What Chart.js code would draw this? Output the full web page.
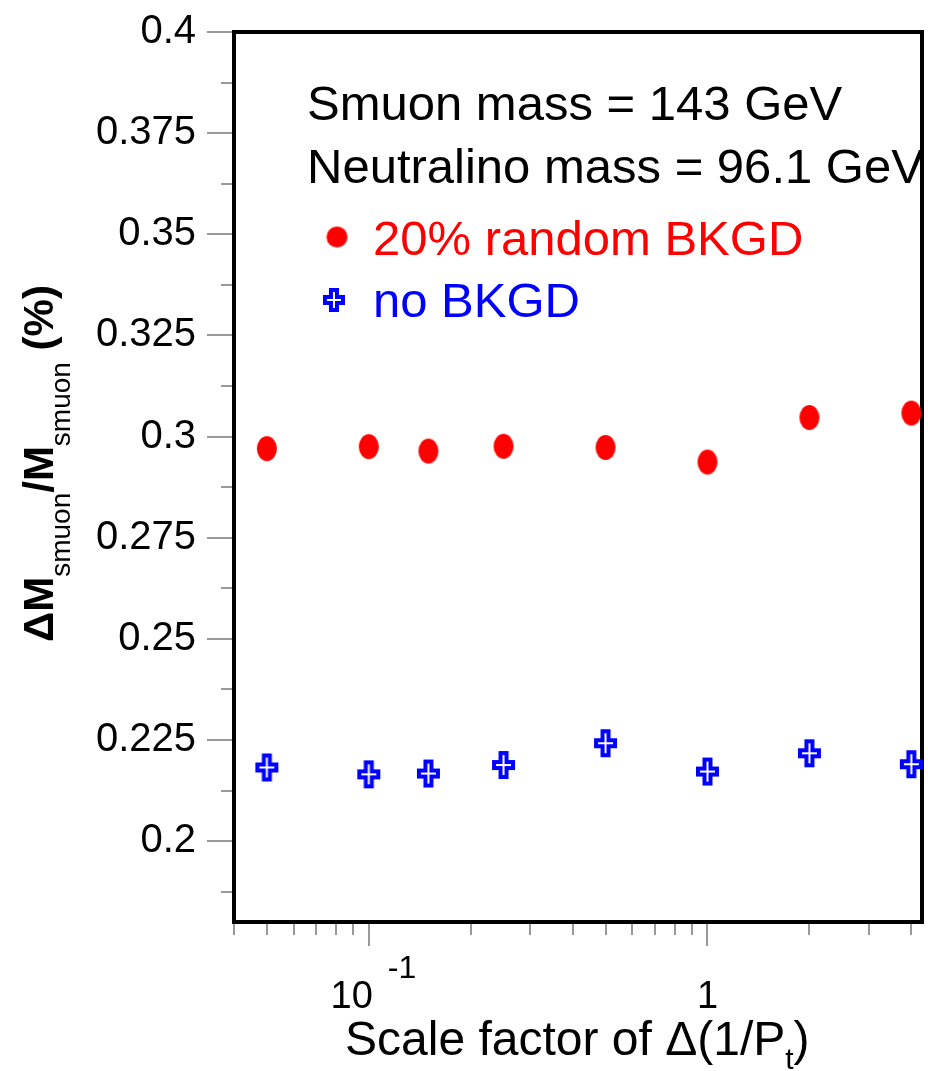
<!DOCTYPE html>
<html>
<head>
<meta charset="utf-8">
<script src="https://cdn.jsdelivr.net/npm/chart.js@4"></script>
<style>
  html, body { margin: 0; padding: 0; background: #fff; }
</style>
</head>
<body>
<canvas id="smuon-chart" width="928" height="1071"></canvas>
<script>
// scale factor of delta(1/Pt) and the mass resolution for both samples
const scaleFactors = [0.05, 0.1, 0.15, 0.25, 0.5, 1, 2, 4];
const randomBkgd = [0.2970, 0.2975, 0.2964, 0.2976, 0.2973, 0.2937, 0.3047, 0.3058];
const noBkgd = [0.2182, 0.2165, 0.2167, 0.2188, 0.2242, 0.2172, 0.2217, 0.2190];
const seriesNames = ["20% random BKGD", "no BKGD"];

const yMajorTicks = [0.2, 0.225, 0.25, 0.275, 0.3, 0.325, 0.35, 0.375, 0.4];
const yTickLabels = ["0.2", "0.225", "0.25", "0.275", "0.3", "0.325", "0.35", "0.375", "0.4"];
const yMinorTicks = [0.1875, 0.2125, 0.2375, 0.2625, 0.2875, 0.3125, 0.3375, 0.3625, 0.3875];
const xMajorTicks = [0.1, 1];
const xTickLabels = [["10", "-1"], ["1"]];
const xMinorTicks = [0.04, 0.05, 0.06, 0.07, 0.08, 0.09, 0.2, 0.3, 0.4, 0.5, 0.6, 0.7, 0.8, 0.9, 2, 3, 4];
const infoLines = ["Smuon mass = 143 GeV", "Neutralino mass = 96.1 GeV"];

const RED = "#ff0000";
const BLUE = "#0000ff";
const FONT = "'Liberation Sans', Arial, sans-serif";

function makeDot(w, h, color) {
  const c = document.createElement("canvas");
  c.width = w + 2;
  c.height = h + 2;
  const g = c.getContext("2d");
  g.fillStyle = color;
  g.beginPath();
  g.ellipse(c.width / 2, c.height / 2, w / 2, h / 2, 0, 0, Math.PI * 2);
  g.fill();
  return c;
}

function makePlus(w, h, arm, color) {
  const c = document.createElement("canvas");
  c.width = w + 2;
  c.height = h + 2;
  const g = c.getContext("2d");
  g.translate(c.width / 2, c.height / 2);
  const hw = w / 2, hh = h / 2, a = arm / 2;
  g.fillStyle = color;
  g.beginPath();
  g.moveTo(-a, -hh); g.lineTo(a, -hh); g.lineTo(a, -a); g.lineTo(hw, -a);
  g.lineTo(hw, a); g.lineTo(a, a); g.lineTo(a, hh); g.lineTo(-a, hh);
  g.lineTo(-a, a); g.lineTo(-hw, a); g.lineTo(-hw, -a); g.lineTo(-a, -a);
  g.closePath();
  g.fill();
  g.strokeStyle = "#ffffff";
  g.lineWidth = 2;
  g.beginPath();
  g.moveTo(0, -hh + 4); g.lineTo(0, hh - 4);
  g.moveTo(-hw + 4, 0); g.lineTo(hw - 4, 0);
  g.stroke();
  return c;
}

const redDot = makeDot(20, 25, RED);
const bluePlus = makePlus(23, 28, 10, BLUE);
const redDotLegend = makeDot(21, 21, RED);
const bluePlusLegend = makePlus(22, 24, 10, BLUE);

const decorations = {
  id: "decorations",
  beforeDatasetsDraw(chart) {
    const { ctx, chartArea: area, scales: { x, y } } = chart;
    ctx.save();
    ctx.strokeStyle = "#999999";
    ctx.lineWidth = 2;
    ctx.beginPath();
    y.ticks.forEach((t) => {
      const py = Math.round(y.getPixelForValue(t.value));
      const len = t.major ? 27 : 13;
      ctx.moveTo(area.left - len, py);
      ctx.lineTo(area.left, py);
    });
    x.ticks.forEach((t) => {
      const px = Math.round(x.getPixelForValue(t.value));
      const len = t.major ? 24 : 13;
      ctx.moveTo(px, area.bottom);
      ctx.lineTo(px, area.bottom + len);
    });
    ctx.stroke();

    ctx.strokeStyle = "#000000";
    ctx.lineWidth = 4;
    ctx.strokeRect(area.left, area.top, area.right - area.left, area.bottom - area.top);
    ctx.restore();
  },
  afterDraw(chart) {
    const { ctx, scales: { x } } = chart;
    ctx.save();
    ctx.fillStyle = "#000000";
    ctx.textBaseline = "alphabetic";

    // x tick labels
    const p01 = x.getPixelForValue(xMajorTicks[0]);
    ctx.font = "38px " + FONT;
    ctx.textAlign = "right";
    ctx.fillText(xTickLabels[0][0], p01 + 4, 1008);
    ctx.font = "32px " + FONT;
    ctx.textAlign = "left";
    ctx.fillText(xTickLabels[0][1], p01 + 19, 978);
    ctx.font = "38px " + FONT;
    ctx.textAlign = "center";
    ctx.fillText(xTickLabels[1][0], x.getPixelForValue(xMajorTicks[1]), 1008);

    // x title
    ctx.textAlign = "left";
    let cx = 345;
    ctx.font = "48px " + FONT;
    const xt = "Scale factor of \u0394(1/P";
    ctx.fillText(xt, cx, 1055);
    cx += ctx.measureText(xt).width;
    ctx.font = "30px " + FONT;
    ctx.fillText("t", cx, 1069);
    cx += ctx.measureText("t").width;
    ctx.font = "48px " + FONT;
    ctx.fillText(")", cx, 1055);

    // y title, rotated
    ctx.save();
    ctx.translate(53, 642);
    ctx.rotate(-Math.PI / 2);
    const parts = [
      ["\u0394M", "bold 42px", 0],
      ["smuon", "28px", 17],
      ["/M", "bold 42px", 0],
      ["smuon", "28px", 17],
      [" (%)", "bold 42px", 0],
    ];
    let ty = 0;
    parts.forEach(([txt, f, dy]) => {
      ctx.font = f + " " + FONT;
      ctx.fillText(txt, ty, dy);
      ty += ctx.measureText(txt).width;
    });
    ctx.restore();

    // info text
    ctx.font = "49px " + FONT;
    ctx.fillText(infoLines[0], 307, 120);
    ctx.fillText(infoLines[1], 307, 183);

    // legend
    ctx.drawImage(redDotLegend, 337 - redDotLegend.width / 2, 237 - redDotLegend.height / 2);
    ctx.drawImage(bluePlusLegend, 334 - bluePlusLegend.width / 2, 300 - bluePlusLegend.height / 2);
    ctx.font = "49px " + FONT;
    ctx.fillStyle = RED;
    ctx.fillText(seriesNames[0], 373, 255);
    ctx.fillStyle = BLUE;
    ctx.fillText(seriesNames[1], 373, 317);
    ctx.restore();
  },
};

const canvas = document.getElementById("smuon-chart");
const chart = new Chart(canvas, {
  type: "scatter",
  data: {
    datasets: [
      {
        label: seriesNames[0],
        data: scaleFactors.map((v, i) => ({ x: v, y: randomBkgd[i] })),
        pointStyle: redDot,
        clip: false,
      },
      {
        label: seriesNames[1],
        data: scaleFactors.map((v, i) => ({ x: v, y: noBkgd[i] })),
        pointStyle: bluePlus,
        clip: false,
      },
    ],
  },
  options: {
    responsive: false,
    animation: false,
    layout: { padding: { top: 32, right: 6, left: 0, bottom: 0 } },
    plugins: {
      legend: { display: false },
      tooltip: { enabled: false },
    },
    scales: {
      x: {
        type: "logarithmic",
        min: 0.04,
        max: 4.3,
        grid: { display: false, drawTicks: false },
        border: { display: false },
        ticks: { display: false },
        afterBuildTicks: (scale) => {
          scale.ticks = xMinorTicks.map((v) => ({ value: v, major: false }))
            .concat(xMajorTicks.map((v) => ({ value: v, major: true })));
        },
        afterFit: (scale) => {
          scale.height = 149;
          scale.paddingLeft = 0;
          scale.paddingRight = 0;
        },
      },
      y: {
        min: 0.18,
        max: 0.4,
        grid: { display: false, drawTicks: false },
        border: { display: false },
        ticks: {
          autoSkip: false,
          padding: 38,
          color: "#000000",
          font: { family: FONT, size: 40 },
          callback: (value) => {
            const i = yMajorTicks.findIndex((m) => Math.abs(m - value) < 1e-6);
            return i >= 0 ? yTickLabels[i] : "";
          },
        },
        afterBuildTicks: (scale) => {
          scale.ticks = yMajorTicks.map((v) => ({ value: v, major: true }))
            .concat(yMinorTicks.map((v) => ({ value: v, major: false })));
        },
        afterFit: (scale) => {
          scale.width = 234;
          scale.paddingTop = 0;
          scale.paddingBottom = 0;
        },
      },
    },
  },
  plugins: [decorations],
});
</script>
</body>
</html>
